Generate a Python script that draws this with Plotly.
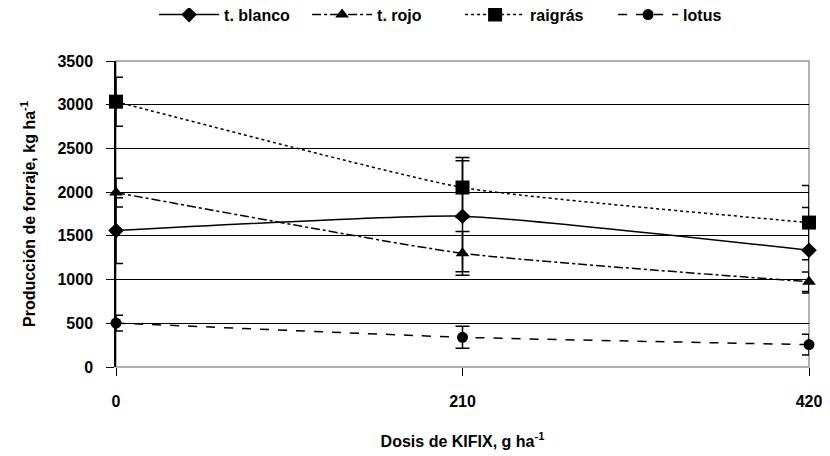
import plotly.graph_objects as go

dosis = [0, 210, 420]
x_labels = ["0", "210", "420"]

t_blanco = [1560, 1725, 1335]
t_blanco_err = [375, 635, 490]
t_rojo = [1995, 1300, 975]
t_rojo_err = [165, 250, 112]
raigras = [3035, 2053, 1652]
raigras_err = [280, 342, 425]
lotus = [503, 340, 256]
lotus_err = [90, 125, 120]

series = [
    ("t. blanco", t_blanco, t_blanco_err, "solid", "diamond", 12),
    ("t. rojo", t_rojo, t_rojo_err, "dashdot", "triangle-up", 12),
    ("raigrás", raigras, raigras_err, "dot", "square", 14),
    ("lotus", lotus, lotus_err, "dash", "circle", 11),
]

fig = go.Figure()
for name, vals, errs, dash, sym, size in series:
    fig.add_trace(go.Scatter(
        x=dosis, y=vals, name=name, mode="lines+markers",
        line=dict(color="black", width=1.5, dash=dash, shape="spline", smoothing=0.45),
        marker=dict(symbol=sym, size=size, color="black"),
        error_y=dict(type="data", array=errs, visible=True, color="black",
                     thickness=1.5, width=7),
        cliponaxis=False,
    ))

font_fam = "Liberation Sans, Arial, sans-serif"
bold16 = dict(family=font_fam, size=16, color="black", weight="bold")
fig.update_layout(
    width=822, height=448,
    paper_bgcolor="white", plot_bgcolor="white",
    margin=dict(l=108, r=21, t=53, b=89),
    font=dict(family=font_fam, size=16, color="black"),
    showlegend=True,
    legend=dict(orientation="h", xref="container", yref="container",
                x=0.55, xanchor="center", y=0.985, yanchor="middle",
                font=bold16, entrywidth=78, entrywidthmode="pixels",
                itemwidth=60, tracegroupgap=0, bgcolor="rgba(0,0,0,0)"),
    xaxis=dict(
        range=[0, 420], tickvals=dosis, ticktext=x_labels, automargin=False,
        ticks="outside", ticklen=8, tickcolor="black", tickwidth=1,
        showgrid=False, zeroline=False, showline=False,
        tickfont=bold16, ticklabelstandoff=12,
        title=dict(text="Dosis de KIFIX, g ha<sup>-1</sup>", standoff=26, font=bold16),
    ),
    yaxis=dict(
        range=[0, 3500], dtick=500, tick0=0, automargin=False,
        ticks="outside", ticklen=8, tickcolor="black", tickwidth=1,
        showgrid=True, gridcolor="black", gridwidth=1,
        zeroline=False, showline=True, linecolor="black", linewidth=1.5,
        tickfont=bold16, ticklabelstandoff=10,
        title=dict(text="Producción de forraje, kg ha<sup>-1</sup>", standoff=18, font=bold16),
    ),
    shapes=[dict(type="rect", xref="paper", yref="paper", x0=0, x1=1, y0=0, y1=1,
                 line=dict(color="#999999", width=1.5), layer="below")],
)

fig.write_html("out.html")
